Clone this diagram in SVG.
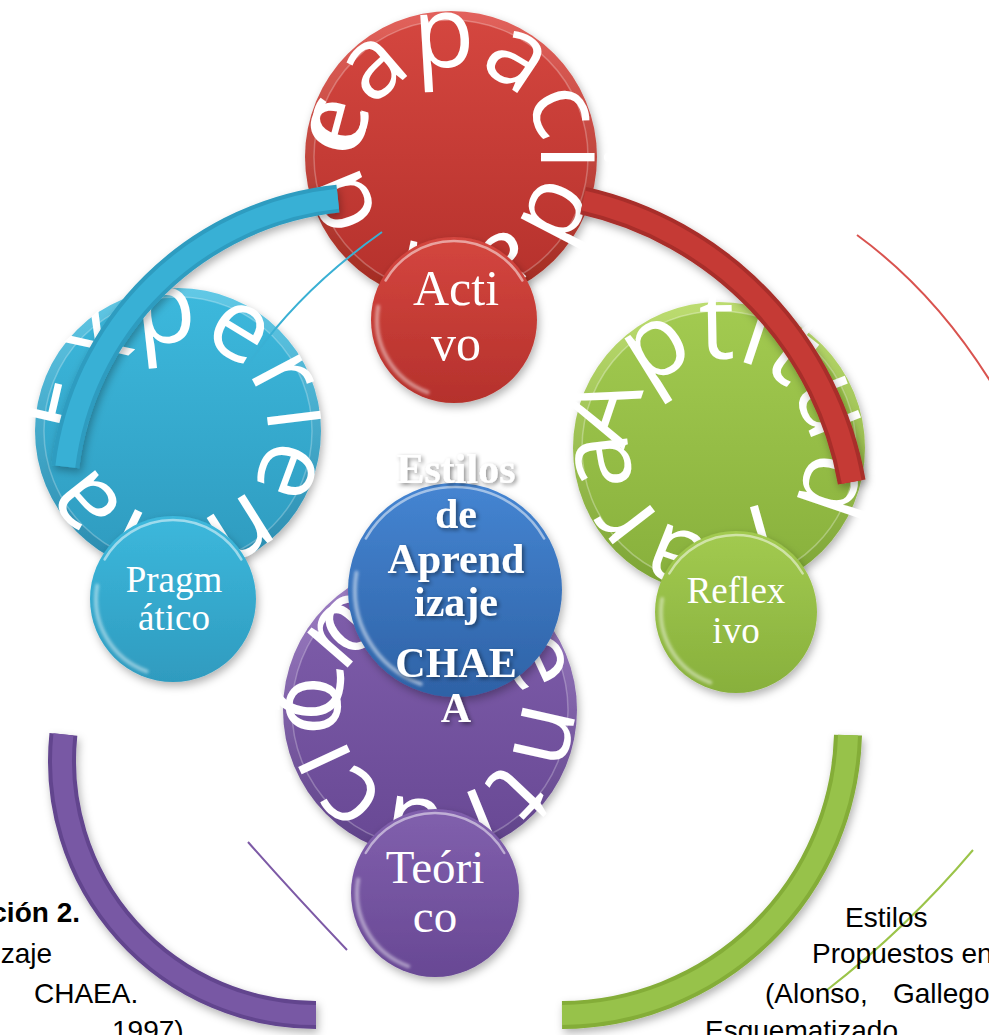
<svg xmlns="http://www.w3.org/2000/svg" width="989" height="1035" viewBox="0 0 989 1035">
<defs>
<style>
.arc{font-family:"Open Sans","Liberation Sans",sans-serif;font-size:100px;fill:#fff}
.lbl{font-family:"Liberation Serif","Times New Roman",serif;fill:#fff;text-anchor:middle}
.ctr{font-family:"Liberation Serif","Times New Roman",serif;font-weight:bold;font-size:42px;fill:#fff;text-anchor:middle}
.cap{font-family:"Liberation Sans",Arial,sans-serif;font-size:28px;fill:#000}
.band{fill:none;stroke-width:28;stroke-linecap:butt}
.bandhi{fill:none;stroke-width:20;stroke-linecap:butt}
.thin{fill:none;stroke-width:2}
.gloss{fill:none;stroke:#fff;stroke-linecap:round}
</style>
<filter id="sh" x="-20%" y="-20%" width="140%" height="140%"><feDropShadow dx="2" dy="4" stdDeviation="4" flood-color="#000" flood-opacity="0.3"/></filter>
<filter id="tsh" x="-20%" y="-20%" width="140%" height="140%"><feDropShadow dx="2" dy="2" stdDeviation="2" flood-color="#000" flood-opacity="0.45"/></filter>
<filter id="blur2"><feGaussianBlur stdDeviation="1.5"/></filter>
<linearGradient id="rimR" x1="0" y1="0" x2="0" y2="1"><stop offset="0" stop-color="#e2625c"/><stop offset="1" stop-color="#a0291f"/></linearGradient>
<linearGradient id="faceR" x1="0" y1="0" x2="0" y2="1"><stop offset="0" stop-color="#d4463f"/><stop offset="1" stop-color="#b5312c"/></linearGradient>
<linearGradient id="rimC" x1="0" y1="0" x2="0" y2="1"><stop offset="0" stop-color="#62c9e6"/><stop offset="1" stop-color="#2789ad"/></linearGradient>
<linearGradient id="faceC" x1="0" y1="0" x2="0" y2="1"><stop offset="0" stop-color="#3cb8dc"/><stop offset="1" stop-color="#2f9bbf"/></linearGradient>
<linearGradient id="rimG" x1="0" y1="0" x2="0" y2="1"><stop offset="0" stop-color="#bcdc70"/><stop offset="1" stop-color="#7aa232"/></linearGradient>
<linearGradient id="faceG" x1="0" y1="0" x2="0" y2="1"><stop offset="0" stop-color="#a2ca50"/><stop offset="1" stop-color="#88b03c"/></linearGradient>
<linearGradient id="rimP" x1="0" y1="0" x2="0" y2="1"><stop offset="0" stop-color="#a283c8"/><stop offset="1" stop-color="#5c3f86"/></linearGradient>
<linearGradient id="faceP" x1="0" y1="0" x2="0" y2="1"><stop offset="0" stop-color="#8160ad"/><stop offset="1" stop-color="#684894"/></linearGradient>
<linearGradient id="faceB" x1="0" y1="0" x2="0" y2="1"><stop offset="0" stop-color="#4585d2"/><stop offset="1" stop-color="#2e62a6"/></linearGradient>
<path id="tpR" d="M361.01,155.43 A90,90 0 0 1 540.99,158.57 A90,90 0 0 1 361.01,155.43 A90,90 0 0 1 540.99,158.57"/>
<path id="tpC" d="M88.39,439.31 A90,90 0 0 1 267.61,422.69 A90,90 0 0 1 88.39,439.31 A90,90 0 0 1 267.61,422.69"/>
<path id="tpG" d="M629.07,451.46 A90,90 0 0 1 808.93,444.54 A90,90 0 0 1 629.07,451.46 A90,90 0 0 1 808.93,444.54"/>
<path id="tpP" d="M341.65,727.17 A90,90 0 0 1 518.35,692.83 A90,90 0 0 1 341.65,727.17 A90,90 0 0 1 518.35,692.83"/>
</defs>
<rect width="989" height="1035" fill="#fff"/>

<!-- big circles -->
<g id="big-experiencia">
<circle cx="178" cy="431" r="143" fill="url(#rimC)" filter="url(#sh)"/>
<circle cx="178" cy="431" r="134" fill="url(#faceC)"/>
<circle cx="178" cy="431" r="134" fill="none" stroke="#fff" stroke-opacity="0.25" stroke-width="1.5"/>
<text class="arc"><textPath href="#tpC">Experiencia</textPath></text>
</g>
<g id="big-capacidad">
<circle cx="451" cy="157" r="146" fill="url(#rimR)" filter="url(#sh)"/>
<circle cx="451" cy="157" r="137" fill="url(#faceR)"/>
<circle cx="451" cy="157" r="137" fill="none" stroke="#fff" stroke-opacity="0.25" stroke-width="1.5"/>
<text class="arc"><textPath href="#tpR">capacidad de</textPath></text>
</g>
<g id="big-aptitud">
<circle cx="719" cy="448" r="146" fill="url(#rimG)" filter="url(#sh)"/>
<circle cx="719" cy="448" r="137" fill="url(#faceG)"/>
<circle cx="719" cy="448" r="137" fill="none" stroke="#fff" stroke-opacity="0.3" stroke-width="1.5"/>
<text class="arc"><textPath href="#tpG">Aptitud para</textPath></text>
</g>
<g id="big-concentracion">
<circle cx="430" cy="710" r="147" fill="url(#rimP)" filter="url(#sh)"/>
<circle cx="430" cy="710" r="138" fill="url(#faceP)"/>
<circle cx="430" cy="710" r="138" fill="none" stroke="#fff" stroke-opacity="0.25" stroke-width="1.5"/>
<text class="arc"><textPath href="#tpP">Concentración</textPath></text>
</g>

<!-- connectors -->
<g id="connectors">
<path class="thin" d="M250,362 Q300,290 382,232" stroke="#3ab0d4"/>
<path class="thin" d="M857,235 Q935,292 992,384" stroke="#d9534f"/>
<path class="thin" d="M973,850 Q907,928 827,990" stroke="#9bc449"/>
<path class="thin" d="M248,842 Q292,892 347,950" stroke="#7d5aa6"/>
<g filter="url(#sh)">
<path class="band" d="M337.9,198.7 A307,307 0 0 0 65.3,466.6" stroke="#2e9cc0"/>
<path class="band" d="M583.2,200.6 A351,351 0 0 1 851.7,482" stroke="#a82d29"/>
<path class="band" d="M63.4,734.4 A254,254 0 0 0 316,1015" stroke="#62458e"/>
<path class="band" d="M848,735.1 A288,288 0 0 1 562,1015" stroke="#84ad38"/>
</g>
<path class="bandhi" d="M337.9,198.7 A307,307 0 0 0 65.3,466.6" stroke="#38b0d5"/>
<path class="bandhi" d="M583.2,200.6 A351,351 0 0 1 851.7,482" stroke="#c53a35"/>
<path class="bandhi" d="M63.4,734.4 A254,254 0 0 0 316,1015" stroke="#7858a4"/>
<path class="bandhi" d="M848,735.1 A288,288 0 0 1 562,1015" stroke="#97c24a"/>
</g>

<!-- small circles -->
<g id="activo">
<circle cx="454" cy="320" r="83" fill="url(#faceR)" filter="url(#sh)"/>
<path class="gloss" d="M385.6,280.5 A79,79 0 0 1 522.4,280.5" stroke-width="2.5" stroke-opacity="0.5"/>
<path class="gloss" d="M378.2,306.6 A77,77 0 0 0 427.7,392.4" stroke-width="4" stroke-opacity="0.45" filter="url(#blur2)"/>
<text class="lbl" font-size="50" x="456" y="305">Acti</text>
<text class="lbl" font-size="50" x="456" y="360">vo</text>
</g>
<g id="pragmatico">
<circle cx="173" cy="599" r="83" fill="url(#faceC)" filter="url(#sh)"/>
<path class="gloss" d="M104.6,559.5 A79,79 0 0 1 241.4,559.5" stroke-width="2.5" stroke-opacity="0.5"/>
<path class="gloss" d="M97.2,585.6 A77,77 0 0 0 146.7,671.4" stroke-width="4" stroke-opacity="0.45" filter="url(#blur2)"/>
<text class="lbl" font-size="37" x="174" y="592">Pragm</text>
<text class="lbl" font-size="37" x="174" y="630">ático</text>
</g>
<g id="reflexivo">
<circle cx="736" cy="612" r="81" fill="url(#faceG)" filter="url(#sh)"/>
<path class="gloss" d="M669.3,573.5 A77,77 0 0 1 802.7,573.5" stroke-width="2.5" stroke-opacity="0.5"/>
<path class="gloss" d="M662.1,599 A75,75 0 0 0 710.3,682.5" stroke-width="4" stroke-opacity="0.45" filter="url(#blur2)"/>
<text class="lbl" font-size="37" x="736" y="603">Reflex</text>
<text class="lbl" font-size="37" x="736" y="643">ivo</text>
</g>
<g id="teorico">
<circle cx="435" cy="893" r="84" fill="url(#faceP)" filter="url(#sh)"/>
<path class="gloss" d="M365.7,853 A80,80 0 0 1 504.3,853" stroke-width="2.5" stroke-opacity="0.5"/>
<path class="gloss" d="M358.2,879.5 A78,78 0 0 0 408.3,966.3" stroke-width="4" stroke-opacity="0.45" filter="url(#blur2)"/>
<text class="lbl" font-size="47" x="435" y="883">Teóri</text>
<text class="lbl" font-size="47" x="435" y="932">co</text>
</g>

<!-- center -->
<g id="centro">
<circle cx="455" cy="590" r="107" fill="url(#faceB)" filter="url(#sh)"/>
<path class="gloss" d="M365.8,538.5 A103,103 0 0 1 544.2,538.5" stroke-width="2.5" stroke-opacity="0.5"/>
<path class="gloss" d="M356.5,572.6 A100,100 0 0 0 420.8,684" stroke-width="4" stroke-opacity="0.5" filter="url(#blur2)"/>
<g filter="url(#tsh)">
<text class="ctr" x="456" y="483">Estilos</text>
<text class="ctr" x="456" y="528">de</text>
<text class="ctr" x="456" y="573">Aprend</text>
<text class="ctr" x="456" y="616">izaje</text>
<text class="ctr" x="456" y="677">CHAE</text>
<text class="ctr" x="456" y="722">A</text>
</g>
</g>

<!-- captions -->
<g id="caption-left">
<text class="cap" font-weight="bold" x="80" y="922" text-anchor="end">ción 2.</text>
<text class="cap" x="52" y="963" text-anchor="end">zaje</text>
<text class="cap" x="34" y="1003">CHAEA.</text>
<text class="cap" x="112" y="1040">1997)</text>
</g>
<g id="caption-right">
<text class="cap" x="845" y="927">Estilos</text>
<text class="cap" x="812" y="963">Propuestos en</text>
<text class="cap" y="1003"><tspan x="765">(Alonso,</tspan><tspan x="893">Gallego</tspan></text>
<text class="cap" x="705" y="1040">Esquematizado</text>
</g>
</svg>
